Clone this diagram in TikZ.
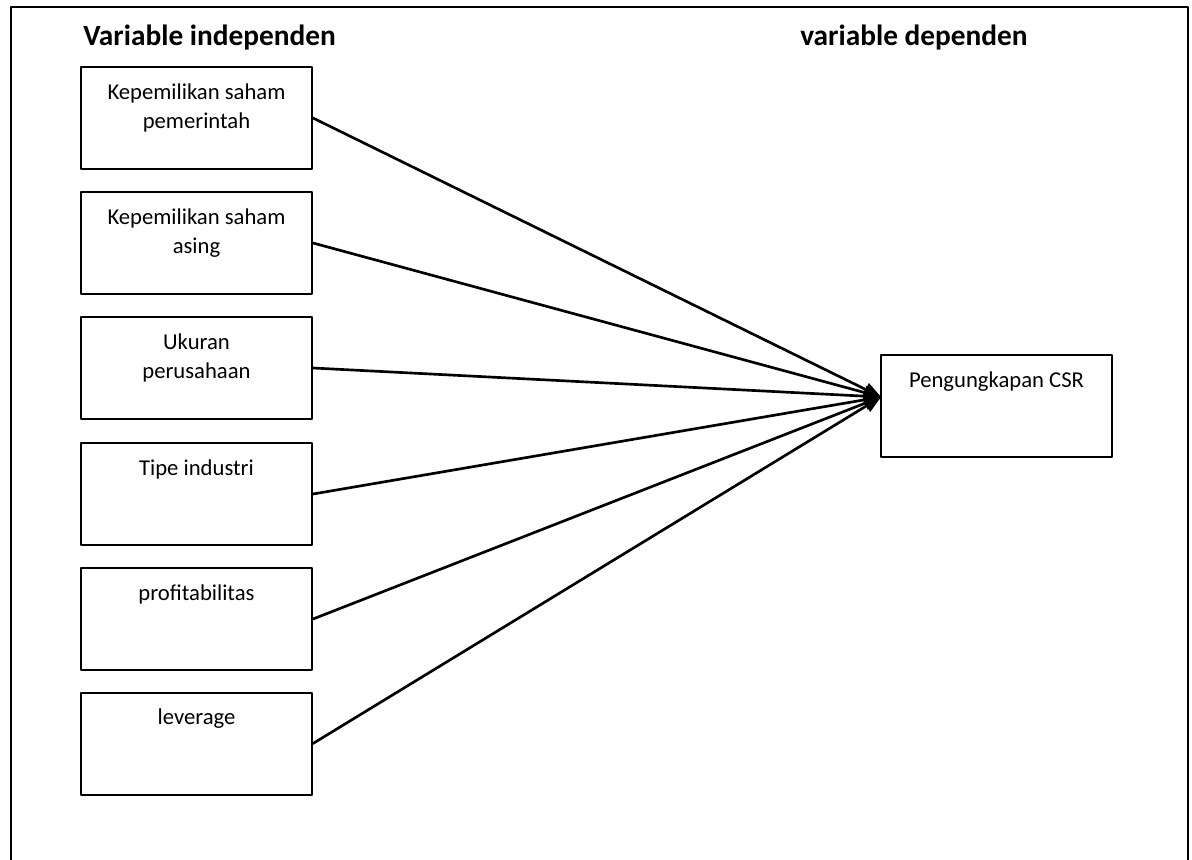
\documentclass[tikz,border=0pt]{standalone}
\usepackage{fontspec}
\setmainfont{Carlito}
\usepackage{tikz}
\usetikzlibrary{arrows}

\begin{document}
\begin{tikzpicture}[line cap=round,line join=round,>=triangle 45,x=0.75pt,y=-0.75pt,
	varbox/.style={draw,line width=1.5pt,minimum width=173.25pt,minimum height=76.5pt,inner sep=0pt},
	boxtext/.style={anchor=north,inner sep=0pt,yshift=-13pt,align=center,font=\fontsize{17}{22}\selectfont},
	head/.style={anchor=base west,inner sep=0pt,font=\fontsize{22}{26}\selectfont\bfseries}]
	\useasboundingbox (0,0) rectangle (1192,860);
	\draw [line width=1.6pt] (11,7) rectangle (1188,890);
	\node[head] (hind) at (83,45) {Variable independen};
	\node[head] (hdep) at (800,45) {variable dependen};
	% independent variables
	\node[varbox,label={[boxtext]north:{Kepemilikan saham\\pemerintah}}] (kpem) at (196.5,118) {};
	\node[varbox,label={[boxtext]north:{Kepemilikan saham\\asing}}] (kasing) at (196.5,243) {};
	\node[varbox,label={[boxtext]north:{Ukuran\\perusahaan}}] (ukuran) at (196.5,368) {};
	\node[varbox,label={[boxtext]north:{Tipe industri}}] (tipe) at (196.5,494) {};
	\node[varbox,label={[boxtext]north:{profitabilitas}}] (profit) at (196.5,619) {};
	\node[varbox,label={[boxtext]north:{leverage}}] (lev) at (196.5,743.5) {};
	% dependent variable
	\node[varbox,label={[boxtext]north:{Pengungkapan CSR}}] (csr) at (996.5,406) {};
	\coordinate (tip) at (881,397);
	\draw [->,line width=2pt] (kpem.east) -- (tip);
	\draw [->,line width=2pt] (kasing.east) -- (tip);
	\draw [->,line width=2pt] (ukuran.east) -- (tip);
	\draw [->,line width=2pt] (tipe.east) -- (tip);
	\draw [->,line width=2pt] (profit.east) -- (tip);
	\draw [->,line width=2pt] (lev.east) -- (tip);
\end{tikzpicture}
\end{document}
